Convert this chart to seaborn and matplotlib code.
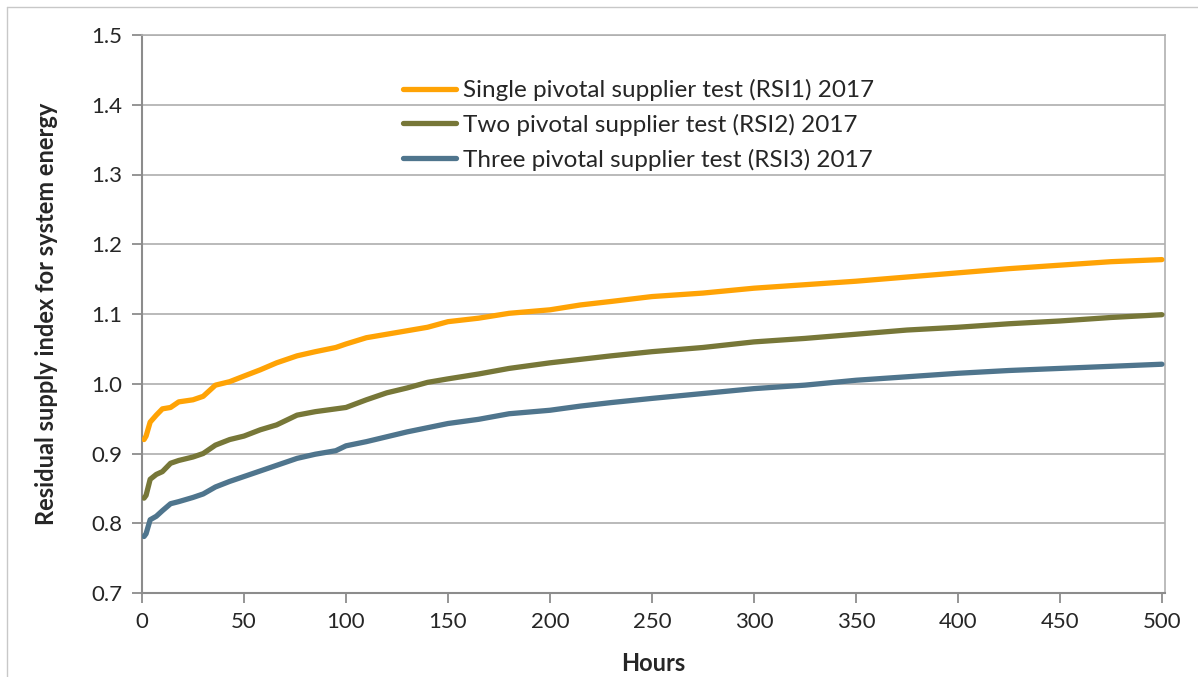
import pandas as pd
import seaborn as sns
import matplotlib.pyplot as plt
from matplotlib.lines import Line2D

# data (hours sorted by RSI value)
hours = [1, 2, 4, 7, 10, 14, 18, 25, 30, 36, 43, 50, 58, 66, 76, 85, 95, 100,
         110, 120, 130, 140, 150, 165, 180, 200, 215, 230, 250, 275, 300, 325,
         350, 375, 400, 425, 450, 475, 500]
rsi1 = [0.920, 0.925, 0.945, 0.955, 0.964, 0.966, 0.974, 0.977, 0.982, 0.998,
        1.003, 1.011, 1.020, 1.030, 1.040, 1.046, 1.052, 1.057, 1.066, 1.071,
        1.076, 1.081, 1.089, 1.094, 1.101, 1.106, 1.113, 1.118, 1.125, 1.130,
        1.137, 1.142, 1.147, 1.153, 1.159, 1.165, 1.170, 1.175, 1.178]
rsi2 = [0.836, 0.840, 0.863, 0.870, 0.874, 0.886, 0.890, 0.895, 0.900, 0.912,
        0.920, 0.925, 0.934, 0.941, 0.955, 0.960, 0.964, 0.966, 0.977, 0.987,
        0.994, 1.002, 1.007, 1.014, 1.022, 1.030, 1.035, 1.040, 1.046, 1.052,
        1.060, 1.065, 1.071, 1.077, 1.081, 1.086, 1.090, 1.095, 1.099]
rsi3 = [0.781, 0.785, 0.805, 0.810, 0.818, 0.828, 0.831, 0.837, 0.842, 0.852,
        0.860, 0.867, 0.875, 0.883, 0.893, 0.899, 0.904, 0.911, 0.917, 0.924,
        0.931, 0.937, 0.943, 0.949, 0.957, 0.962, 0.968, 0.973, 0.979, 0.986,
        0.993, 0.998, 1.005, 1.010, 1.015, 1.019, 1.022, 1.025, 1.028]

labels = ['Single pivotal supplier test (RSI1) 2017',
          'Two pivotal supplier test (RSI2) 2017',
          'Three pivotal supplier test (RSI3) 2017']
colors = ['#FFA305', '#777738', '#4F758D']

df = pd.concat([
    pd.DataFrame({'Hours': hours, 'RSI': vals, 'Test': lab})
    for vals, lab in zip([rsi1, rsi2, rsi3], labels)
])

sns.set_style('white')
plt.rcParams['font.family'] = ['Lato', 'DejaVu Sans']

fig = plt.figure(figsize=(11.98, 6.77), dpi=100)
ax = fig.add_axes([142 / 1198, 1 - 593 / 677, (1165 - 142) / 1198, (593 - 35) / 677])

sns.lineplot(data=df, x='Hours', y='RSI', hue='Test', palette=dict(zip(labels, colors)),
             linewidth=3.8, ax=ax, zorder=3)

ax.set_xlim(0, 501.5)
ax.set_ylim(0.7, 1.5)
ax.set_xticks(range(0, 501, 50))
ax.set_yticks([0.7, 0.8, 0.9, 1.0, 1.1, 1.2, 1.3, 1.4, 1.5])
ax.set_yticklabels([f'{v:.1f}' for v in ax.get_yticks()])
ax.grid(axis='y', color='#B4B4B4', linewidth=1.3)
ax.set_axisbelow(True)

for s in ax.spines.values():
    s.set_color('#B0B0B0')
    s.set_linewidth(1.2)
ax.spines['left'].set_color('#8C8C8C')
ax.spines['bottom'].set_color('#8C8C8C')
ax.spines['left'].set_linewidth(1.5)
ax.spines['bottom'].set_linewidth(1.5)

ax.tick_params(axis='both', direction='out', length=7, width=1.3, color='#8C8C8C',
               labelsize=16, pad=7, left=True, bottom=True)

ax.set_xlabel('Hours', fontsize=17, fontweight='bold', labelpad=14)
ax.set_ylabel('Residual supply index for system energy', fontsize=17,
              fontweight='bold', labelpad=24)

leg = ax.legend(loc='upper left', bbox_to_anchor=(403 / 1198, 1 - 79 / 677),
                bbox_transform=fig.transFigure, frameon=False, fontsize=17.5,
                handlelength=2.2, handletextpad=0.25, labelspacing=0.52,
                borderpad=0, borderaxespad=0)
for line in leg.get_lines():
    line.set_linewidth(3.8)

# outer chart border (top and left edges only visible)
fig.add_artist(Line2D([7 / 1198, 1], [1 - 7 / 677, 1 - 7 / 677], color='#C8C8C8', lw=1))
fig.add_artist(Line2D([7 / 1198, 7 / 1198], [0, 1 - 7 / 677], color='#C8C8C8', lw=1))

fig.savefig('out.png', dpi=100)
